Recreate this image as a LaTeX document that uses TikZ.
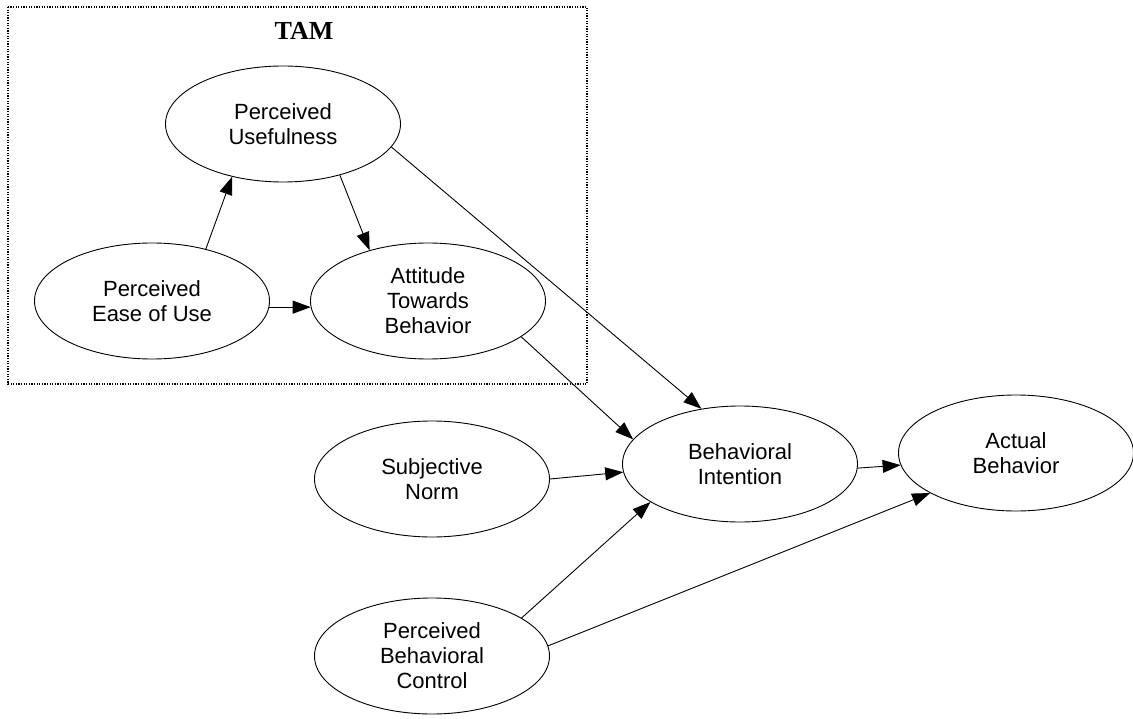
\documentclass[tikz,border=0pt]{standalone}
\usepackage{fontspec}
\setmainfont{Liberation Sans}
\newfontfamily\tamfont{Liberation Serif}
\usetikzlibrary{shapes.geometric,arrows.meta}
\tikzset{
  construct/.style={draw=black, line width=0.9pt, ellipse, minimum width=235pt, minimum height=116pt, inner sep=0pt, align=center, font=\fontsize{22}{25}\selectfont},
  link/.style={draw=black, line width=0.9pt, -{Triangle[length=18pt,width=13pt]}},
  tambox/.style={draw=black, line width=1.3pt, dash pattern=on 1.3pt off 1.3pt}
}
\begin{document}
\begin{tikzpicture}[x=1pt,y=-1pt]
\useasboundingbox (0,0) rectangle (1133,719);
\fill[white] (0,0) rectangle (1133,719);
\draw[tambox] (8,7) rectangle (587,384);
\node[font=\tamfont\bfseries\fontsize{26}{28}\selectfont] (tam) at (304,31) {TAM};
\node[construct] (pu) at (283,124) {Perceived\\Usefulness};
\node[construct] (peou) at (152,301) {Perceived\\Ease of Use};
\node[construct] (atb) at (428,301) {Attitude\\Towards\\Behavior};
\node[construct] (sn) at (432,479) {Subjective\\Norm};
\node[construct] (bi) at (740,464) {Behavioral\\Intention};
\node[construct] (ab) at (1016,453) {Actual\\Behavior};
\node[construct] (pbc) at (432,656) {Perceived\\Behavioral\\Control};
\draw[link] (peou.44) -- (pu.226);
\draw[link] (pu.-42) -- (atb.139);
\draw[link] (peou.-3) -- (atb.183);
\draw[link] (pu.-12) -- (bi.125);
\draw[link] (atb.-21) -- (bi.167);
\draw[link] (sn.0) -- (bi.184);
\draw[link] (pbc.23) -- (bi.203);
\draw[link] (pbc.5) -- (ab.205);
\draw[link] (bi.-2) -- (ab.186);
\end{tikzpicture}
\end{document}
